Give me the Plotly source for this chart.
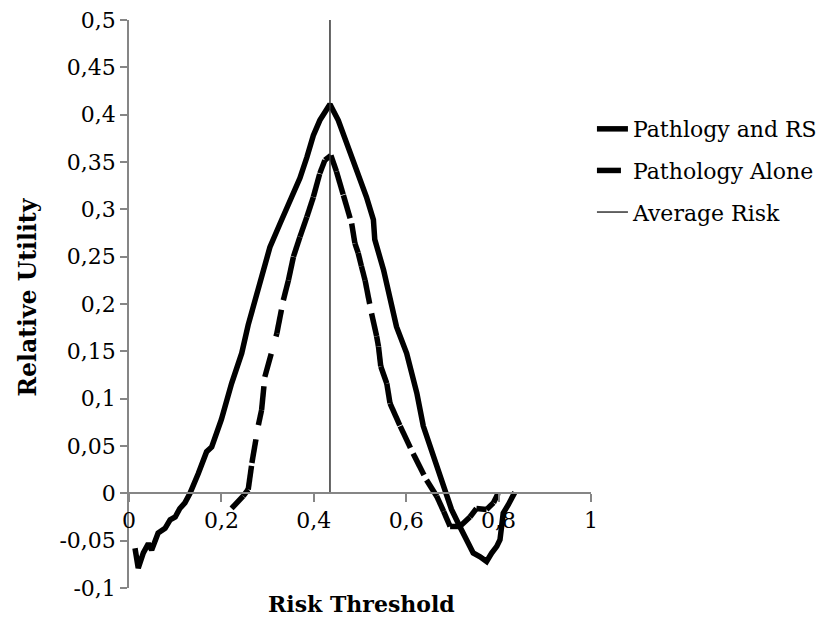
import plotly.graph_objects as go

# ---- data ----
risk_rs = [0.013, 0.020, 0.031, 0.042, 0.049, 0.063, 0.078, 0.089, 0.100, 0.110, 0.121, 0.132,
           0.150, 0.168, 0.179, 0.200, 0.222, 0.244, 0.258, 0.273, 0.284, 0.291, 0.305, 0.327,
           0.348, 0.370, 0.385, 0.399, 0.413, 0.435, 0.453, 0.475, 0.496, 0.514, 0.529, 0.532,
           0.551, 0.565, 0.579, 0.601, 0.623, 0.637, 0.659, 0.681, 0.698, 0.716, 0.731, 0.745,
           0.760, 0.774, 0.785, 0.796, 0.803, 0.810, 0.821, 0.835]
util_rs = [-0.058, -0.079, -0.063, -0.053, -0.060, -0.042, -0.037, -0.028, -0.025, -0.016, -0.010, 0.000,
           0.021, 0.044, 0.049, 0.078, 0.116, 0.148, 0.178, 0.205, 0.220, 0.235, 0.260, 0.285,
           0.310, 0.333, 0.355, 0.378, 0.394, 0.411, 0.394, 0.366, 0.338, 0.313, 0.289, 0.268,
           0.236, 0.204, 0.176, 0.148, 0.106, 0.071, 0.039, 0.004, -0.017, -0.035, -0.049, -0.063,
           -0.067, -0.072, -0.063, -0.056, -0.049, -0.021, -0.012, 0.001]

risk_alone = [0.222, 0.247, 0.258, 0.266, 0.280, 0.287, 0.294, 0.320, 0.334, 0.345, 0.356, 0.370,
              0.385, 0.399, 0.413, 0.424, 0.437, 0.449, 0.464, 0.482, 0.489, 0.496, 0.503, 0.511,
              0.525, 0.536, 0.540, 0.545, 0.558, 0.565, 0.587, 0.615, 0.644, 0.666, 0.681, 0.695,
              0.716, 0.738, 0.752, 0.774, 0.789, 0.799]
util_alone = [-0.016, -0.003, 0.004, 0.032, 0.072, 0.088, 0.123, 0.169, 0.204, 0.225, 0.250, 0.271,
              0.292, 0.313, 0.338, 0.352, 0.357, 0.340, 0.315, 0.285, 0.264, 0.254, 0.240, 0.225,
              0.190, 0.166, 0.155, 0.134, 0.116, 0.095, 0.071, 0.042, 0.014, -0.003, -0.019, -0.035,
              -0.035, -0.025, -0.016, -0.017, -0.010, 0.000]

average_risk = 0.435
avg_line_y = [0.0, 0.5]

x_tick_vals = [0, 0.2, 0.4, 0.6, 0.8, 1]
x_tick_labels = ["0", "0,2", "0,4", "0,6", "0,8", "1"]
y_tick_vals = [-0.1, -0.05, 0, 0.05, 0.1, 0.15, 0.2, 0.25, 0.3, 0.35, 0.4, 0.45, 0.5]
y_tick_labels = ["-0,1", "-0,05", "0", "0,05", "0,1", "0,15", "0,2", "0,25", "0,3", "0,35", "0,4", "0,45", "0,5"]

FONT = "DejaVu Serif"
AXIS_GRAY = "#868686"

fig = go.Figure()

fig.add_trace(go.Scatter(
    x=risk_rs, y=util_rs, mode="lines", name="Pathlogy and RS",
    legendgroup="rs", line=dict(color="black", width=5.5)))

# dashed series drawn segment by segment (dash pattern restarts at each point, as in the original)
for i in range(len(risk_alone) - 1):
    fig.add_trace(go.Scatter(
        x=risk_alone[i:i + 2], y=util_alone[i:i + 2], mode="lines",
        name="Pathology Alone", legendgroup="alone", showlegend=(i == 0),
        line=dict(color="black", width=5.5, dash="24px,18px")))

fig.add_trace(go.Scatter(
    x=[average_risk, average_risk], y=avg_line_y, mode="lines", name="Average Risk",
    legendgroup="avg", line=dict(color="#333333", width=1.5)))

fig.update_layout(
    width=821, height=624,
    margin=dict(l=129, r=230, t=20, b=36),
    paper_bgcolor="white", plot_bgcolor="white",
    font=dict(family=FONT, size=22, color="black"),
    showlegend=True,
    legend=dict(xref="container", x=0.721, xanchor="left",
                y=0.845, yanchor="top",
                traceorder="grouped", tracegroupgap=10,
                font=dict(family=FONT, size=22, color="black"),
                bgcolor="rgba(0,0,0,0)", itemwidth=31, borderwidth=0),
    xaxis=dict(range=[0, 1], tickvals=x_tick_vals, ticktext=x_tick_labels,
               ticks="outside", ticklen=8, tickwidth=1.5, tickcolor=AXIS_GRAY,
               showline=True, linecolor=AXIS_GRAY, linewidth=1.5,
               showgrid=False, zeroline=False, anchor="free", position=1 / 6,
               automargin=False,
               tickfont=dict(family=FONT, size=22, color="black")),
    yaxis=dict(range=[-0.1, 0.5], tickvals=y_tick_vals, ticktext=y_tick_labels,
               ticks="outside", ticklen=7, tickwidth=1.5, tickcolor=AXIS_GRAY,
               showline=True, linecolor=AXIS_GRAY, linewidth=1.5,
               showgrid=False, zeroline=False, automargin=False,
               tickfont=dict(family=FONT, size=22, color="black")),
    annotations=[
        dict(text="<b>Risk Threshold</b>", xref="paper", yref="paper",
             x=0.503, y=-0.028, xanchor="center", yanchor="middle", showarrow=False,
             font=dict(family=FONT, size=22, color="black")),
        dict(text="<b>Relative Utility</b>", xref="paper", yref="paper",
             x=-0.218, y=0.512, xanchor="center", yanchor="middle", showarrow=False,
             textangle=-90, font=dict(family=FONT, size=23.5, color="black")),
    ],
)

fig.write_html("out.html", config={"displayModeBar": False},
               post_script="document.body.style.margin='0';")
